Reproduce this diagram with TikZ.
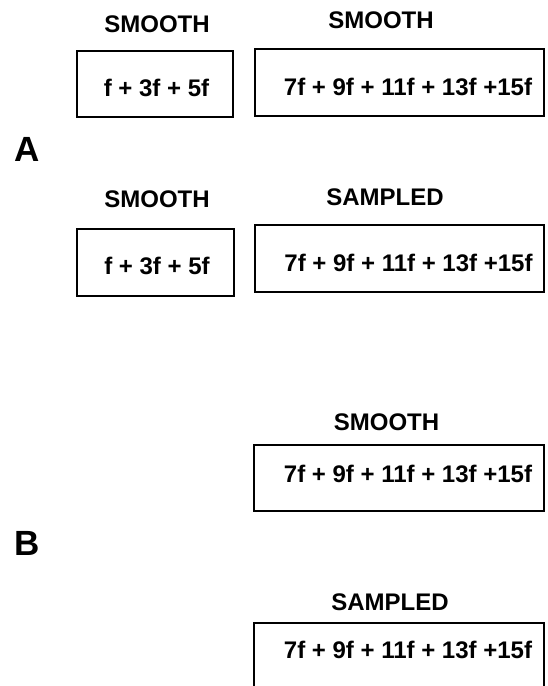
\documentclass[tikz,border=0pt]{standalone}
\usepackage{fontspec}
\setmainfont{Liberation Sans}
\usepackage{tikz}
\tikzstyle{sumbox} = [draw=black, line width=1.3pt,
rectangle, inner sep=0pt]
\tikzstyle{sumtext} = [inner sep=0pt, anchor=base, font=\fontsize{24}{26}\selectfont\bfseries]
\tikzstyle{kind} = [inner sep=0pt, anchor=base, font=\fontsize{24}{26}\selectfont\bfseries]
\tikzstyle{panel} = [inner sep=0pt, anchor=base, font=\fontsize{35}{38}\selectfont\bfseries]

\begin{document}
\begin{tikzpicture}[x=1pt, y=-1pt]
		\useasboundingbox (0,0) rectangle (547,686);
		% panel A, upper row
		\node [kind] (kindA1) at (157,32) {SMOOTH};
		\node [kind] (kindA2) at (381,28) {SMOOTH};
		\node [sumbox, minimum width=156pt, minimum height=66pt] (boxA1) at (155,84) {};
		\node [sumbox, minimum width=289pt, minimum height=67pt] (boxA2) at (399.5,82.5) {};
		\node [sumtext] (sumA1) at (156.5,96) {f + 3f + 5f};
		\node [sumtext] (sumA2) at (408,95) {7f + 9f + 11f + 13f +15f};
		\node [panel] (labA) at (27,161) {A};
		% panel A, lower row
		\node [kind] (kindA3) at (157,207) {SMOOTH};
		\node [kind] (kindA4) at (385,205) {SAMPLED};
		\node [sumbox, minimum width=157pt, minimum height=67pt] (boxA3) at (155.5,262.5) {};
		\node [sumbox, minimum width=289pt, minimum height=67pt] (boxA4) at (399.5,258.5) {};
		\node [sumtext] (sumA3) at (157,274) {f + 3f + 5f};
		\node [sumtext] (sumA4) at (408.5,271) {7f + 9f + 11f + 13f +15f};
		% panel B
		\node [kind] (kindB1) at (386.5,430) {SMOOTH};
		\node [sumbox, minimum width=290pt, minimum height=66pt] (boxB1) at (399,478) {};
		\node [sumtext] (sumB1) at (408,482) {7f + 9f + 11f + 13f +15f};
		\node [panel] (labB) at (27,555) {B};
		\node [kind] (kindB2) at (390,610) {SAMPLED};
		\node [sumbox, minimum width=290pt, minimum height=66pt] (boxB2) at (399,656) {};
		\node [sumtext] (sumB2) at (408,658) {7f + 9f + 11f + 13f +15f};
\end{tikzpicture}
\end{document}
